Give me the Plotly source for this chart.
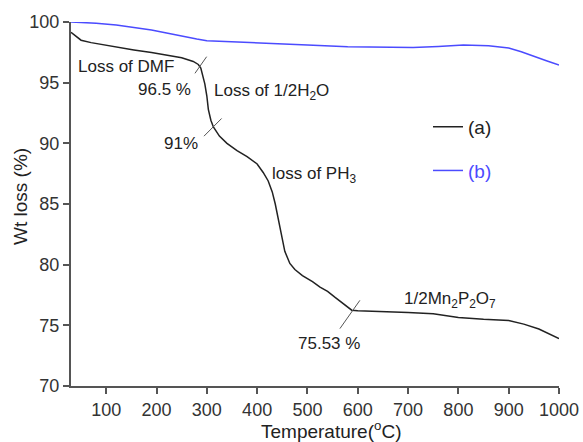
import plotly.graph_objects as go

# ---- data ----
temp_a = [30, 40, 50, 70, 90, 120, 155, 190, 220, 250, 273, 283, 288, 292, 296, 300, 303, 308, 313, 325, 340, 360, 380,
          400, 412, 422, 430, 436, 442, 448, 455, 465, 475, 490, 510, 525, 540, 555, 570, 588, 600, 650, 700, 750,
          800, 850, 900, 930, 960, 1000]
wt_a = [99.15, 98.8, 98.5, 98.3, 98.15, 97.95, 97.7, 97.48, 97.28, 97.05, 96.75, 96.5, 96.2, 95.6, 94.9, 93.9,
        92.8, 91.9, 91.35, 90.6, 90.0, 89.4, 88.9, 88.3, 87.6, 86.9, 86.0, 85.0, 83.7, 82.3, 81.1, 80.1, 79.6, 79.1,
        78.6, 78.15, 77.8, 77.3, 76.8, 76.25, 76.2, 76.15, 76.05, 75.95, 75.65, 75.5, 75.4, 75.1, 74.7, 73.9]

temp_b = [30, 80, 120, 160, 190, 220, 253, 280, 300, 340, 385, 445, 500, 580, 650, 710, 760, 810, 860, 900, 925,
          950, 975, 1000]
wt_b = [100, 99.9, 99.75, 99.55, 99.35, 99.1, 98.8, 98.6, 98.46, 98.38, 98.3, 98.2, 98.1, 97.97, 97.92, 97.9,
        97.98, 98.1, 98.05, 97.85, 97.55, 97.15, 96.8, 96.45]

series_names = ["(a)", "(b)"]
x_ticks = [100, 200, 300, 400, 500, 600, 700, 800, 900, 1000]
y_ticks = [70, 75, 80, 85, 90, 95, 100]
x_title = "Temperature(<sup>o</sup>C)"
y_title = "Wt loss (%)"

# annotation labels: (text, x, y, xanchor)
labels = [
    ("Loss of DMF", 40, 96.3, "left"),
    ("96.5 %", 272, 94.4, "right"),
    ("Loss of 1/2H<sub>2</sub>O", 310, 94.2, "left"),
    ("91%", 286, 90.0, "right"),
    ("loss of PH<sub>3</sub>", 425, 87.4, "left"),
    ("1/2Mn<sub>2</sub>P<sub>2</sub>O<sub>7</sub>", 687, 77.1, "left"),
    ("75.53 %", 478, 73.5, "left"),
]
# small slanted marker lines: (x0, y0, x1, y1)
markers = [
    (276.4, 95.77, 299.6, 97.14),
    (294.3, 90.59, 329.4, 92.05),
    (564.5, 74.73, 604.2, 77.06),
]

BLUE = "#4b4bff"
FONT = "Liberation Sans, Arial, sans-serif"

fig = go.Figure()
fig.add_trace(go.Scatter(x=temp_a, y=wt_a, mode="lines", name=series_names[0], legendgroup="a",
                         line=dict(color="#222222", width=1.5)))
fig.add_trace(go.Scatter(x=temp_b, y=wt_b, mode="lines",
                         name='<span style="color:%s">%s</span>' % (BLUE, series_names[1]), legendgroup="b",
                         line=dict(color=BLUE, width=1.5)))

for text, x, y, xa in labels:
    fig.add_annotation(x=x, y=y, text=text, showarrow=False, xanchor=xa, yanchor="middle",
                       font=dict(family=FONT, size=17, color="#222222"))

for x0, y0, x1, y1 in markers:
    fig.add_shape(type="line", x0=x0, y0=y0, x1=x1, y1=y1, xref="x", yref="y",
                  line=dict(color="#555555", width=1))

# axis titles
fig.add_annotation(x=0.533, y=-0.122, xref="paper", yref="paper", text=x_title, showarrow=False,
                   xanchor="center", yanchor="middle", font=dict(family=FONT, size=19, color="#222222"))
fig.add_annotation(x=-0.1025, y=0.522, xref="paper", yref="paper", text=y_title, showarrow=False,
                   textangle=-90, xanchor="center", yanchor="middle",
                   font=dict(family=FONT, size=19, color="#222222"))

axis_common = dict(showline=True, linecolor="#555555", linewidth=2, ticks="outside", ticklen=6,
                   tickwidth=1.5, tickcolor="#555555", showgrid=False, zeroline=False, automargin=False,
                   tickfont=dict(family=FONT, size=18, color="#333333"), mirror=False)

fig.update_layout(
    width=583, height=442,
    margin=dict(l=71, r=24, t=22, b=56),
    paper_bgcolor="white", plot_bgcolor="white",
    font=dict(family=FONT, color="#222222"),
    xaxis=dict(range=[30, 1000], tickvals=x_ticks, **axis_common),
    yaxis=dict(range=[70, 100], tickvals=y_ticks, **axis_common),
    legend=dict(x=0.7316, y=0.764, xanchor="left", yanchor="top", bgcolor="rgba(0,0,0,0)",
                font=dict(family=FONT, size=19, color="#222222"), tracegroupgap=16, itemwidth=30),
    showlegend=True,
)

# remove the default page margin so the figure sits at the window's top-left corner
fig.write_html("out.html", config={"displayModeBar": False}, post_script=(
    "document.body.style.margin='0px';"
    "document.body.style.overflow='hidden';"
    "document.documentElement.style.overflow='hidden';"
))
